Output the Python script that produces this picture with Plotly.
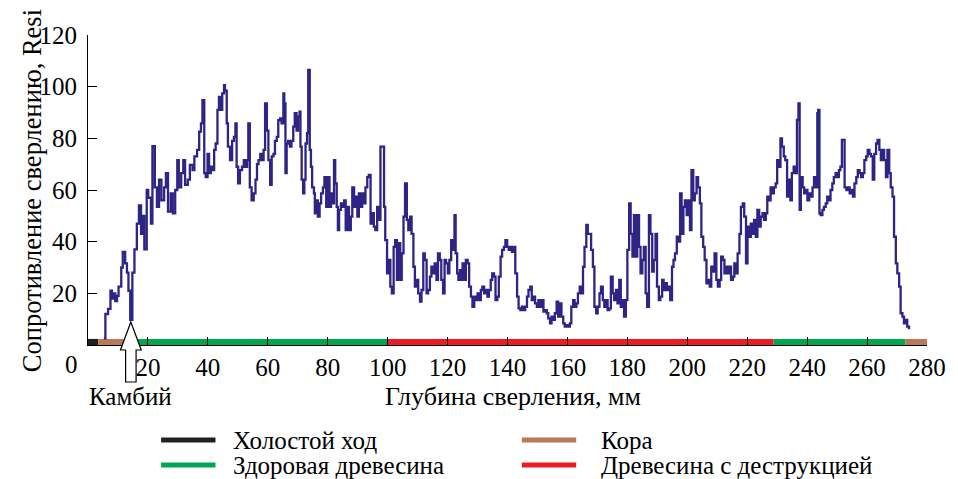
import plotly.graph_objects as go

# ---- data ----
depth_mm = [
    5.3, 5.8, 6.7, 7.5, 8.0, 8.6, 9.1, 9.7, 10.2, 11.1, 11.6, 12.4, 13.0, 13.5, 14.1, 14.8, 15.5, 16.3, 17.0, 17.7,
    18.1, 18.8, 19.6, 20.1, 21.0, 21.5, 22.3, 23.0, 23.7, 24.5, 25.4, 26.0, 26.7, 27.6, 28.3, 29.1, 29.8, 30.3, 31.1, 31.8,
    32.4, 33.3, 34.0, 34.9, 35.5, 36.4, 37.1, 37.7, 38.2, 38.8, 39.3, 39.9, 40.4, 41.0, 41.5, 42.1, 42.6, 43.2, 43.7, 44.3,
    44.8, 45.4, 45.7, 46.3, 46.7, 47.4, 48.1, 48.7, 49.2, 49.6, 50.1, 50.7, 51.4, 52.0, 52.6, 53.1, 53.5, 54.0, 54.6, 55.3,
    55.9, 56.4, 56.9, 57.5, 58.0, 58.6, 59.1, 59.7, 60.2, 60.8, 61.3, 61.9, 62.4, 63.0, 63.5, 64.1, 64.6, 65.2, 65.5, 65.9,
    66.3, 66.8, 67.4, 67.9, 68.5, 69.0, 69.6, 70.1, 70.6, 70.9, 71.3, 71.8, 72.2, 72.6, 73.1, 73.5, 74.0, 74.4, 74.8, 75.4,
    75.7, 76.2, 76.7, 77.3, 77.8, 78.4, 78.9, 79.5, 80.0, 80.6, 81.1, 81.7, 82.1, 82.5, 83.0, 83.4, 83.8, 84.4, 84.9, 85.5,
    86.0, 86.6, 87.1, 87.7, 88.2, 88.8, 89.3, 89.9, 90.4, 91.0, 91.5, 92.1, 92.6, 93.2, 93.7, 94.3, 94.8, 95.4, 95.9, 96.5,
    97.0, 97.6, 98.4, 98.8, 99.2, 99.8, 100.3, 100.9, 101.4, 102.0, 102.5, 103.1, 103.6, 104.2, 104.7, 105.3, 105.8, 106.4,
    106.9, 107.5, 108.0, 108.6, 109.1, 109.7, 110.2, 110.8, 111.3, 111.9, 112.4, 113.0, 113.5, 114.1, 114.6, 115.2, 115.7,
    116.3, 116.8, 117.4, 117.9, 118.5, 119.0, 119.5, 120.1, 120.6, 121.2, 121.7, 122.3, 122.7, 123.2, 123.6, 124.1, 124.5,
    125.0, 125.6, 126.1, 126.7, 127.2, 127.8, 128.3, 128.9, 129.4, 130.0, 130.5, 131.1, 131.6, 132.2, 132.7, 133.3, 133.8,
    134.4, 134.9, 135.5, 136.0, 136.6, 137.1, 137.7, 138.2, 138.8, 139.3, 139.9, 140.4, 141.0, 141.5, 142.1, 142.6, 143.2,
    143.7, 144.3, 144.8, 145.4, 145.9, 146.5, 147.0, 147.6, 148.1, 148.7, 149.2, 149.8, 150.3, 150.9, 151.4, 152.0, 152.5,
    153.1, 153.6, 154.2, 154.7, 155.3, 155.8, 156.4, 156.9, 157.5, 158.0, 158.6, 159.1, 159.7, 160.2, 160.8, 161.3, 161.9,
    162.4, 163.0, 163.5, 164.1, 164.6, 165.2, 165.7, 166.3, 166.8, 167.4, 167.9, 168.5, 169.0, 169.6, 170.1, 170.7, 171.2,
    171.8, 172.3, 172.9, 173.4, 174.0, 174.5, 175.1, 175.6, 176.2, 176.7, 177.3, 177.8, 178.4, 178.9, 179.5, 180.0, 180.6,
    181.1, 181.7, 182.2, 182.8, 183.3, 183.9, 184.4, 185.0, 185.5, 186.1, 186.6, 187.2, 187.7, 188.3, 188.8, 189.4, 189.9,
    190.5, 191.0, 191.6, 192.1, 192.7, 193.2, 193.8, 194.3, 194.9, 195.4, 195.9, 196.5, 197.0, 197.6, 198.1, 198.7, 199.2,
    199.8, 200.3, 200.9, 201.4, 202.0, 202.5, 203.1, 203.6, 204.2, 204.7, 205.3, 205.8, 206.4, 206.9, 207.5, 208.0, 208.6,
    209.1, 209.7, 210.2, 210.8, 211.3, 211.9, 212.4, 213.0, 213.5, 214.1, 214.6, 215.2, 215.7, 216.3, 216.8, 217.4, 217.9,
    218.5, 219.0, 219.6, 220.1, 220.7, 221.2, 221.8, 222.3, 222.9, 223.4, 224.0, 224.5, 225.1, 225.6, 226.2, 226.7, 227.3,
    227.8, 228.4, 228.9, 229.5, 230.0, 230.6, 231.1, 231.6, 232.2, 232.7, 233.3, 233.8, 234.4, 234.9, 235.5, 236.0, 236.6,
    237.1, 237.5, 237.9, 238.5, 239.0, 239.6, 240.1, 240.7, 241.2, 241.8, 242.3, 242.9, 243.4, 243.7, 244.1, 244.5, 245.1,
    245.6, 246.2, 246.7, 247.3, 247.8, 248.4, 248.9, 249.5, 250.0, 250.6, 251.1, 251.6, 252.2, 252.5, 253.1, 253.6, 254.2,
    254.7, 255.3, 255.8, 256.4, 256.9, 257.5, 258.0, 258.6, 259.1, 259.7, 260.2, 260.8, 261.3, 261.9, 262.4, 263.0, 263.5,
    264.1, 264.6, 265.2, 265.7, 266.3, 266.8, 267.4, 267.9, 268.5, 269.0, 269.6, 270.1, 270.7, 271.2, 271.8, 272.3, 272.9,
    273.4, 274.0,
]
resistance = [
    2.6, 12, 14, 21, 18, 20, 17, 19, 22.6, 30, 36, 31.6, 28, 21, 9.7, 28, 37, 47, 54, 43,
    50, 37, 60, 57, 47, 77, 61, 53.5, 64, 56, 61, 66.5, 51.6, 58.7, 51, 60, 71.6, 61, 66.5, 71.6,
    62, 64, 69.7, 67.7, 73, 75.5, 82.6, 85.8, 94.8, 66.5, 65, 74, 66.5, 69, 67.7, 75.5, 78, 91, 96, 91,
    97.4, 100.6, 98.5, 85.8, 76.8, 71.6, 79, 80.6, 85.8, 69, 62.6, 67.7, 69, 71.6, 69, 71.6, 85.8, 61, 56, 58.7,
    64, 70, 71.6, 74, 71.6, 75.5, 93.5, 83, 71.6, 62, 73, 74, 79, 80.6, 87, 87.7, 85.8, 97.4, 93.5, 66.5,
    78, 79, 76.8, 79, 84.5, 89.7, 83, 88.4, 90.3, 76.8, 64, 58.7, 64, 78, 82, 106.5, 75.5, 69, 61, 58.7,
    51, 56, 49.7, 54.8, 58.7, 61, 65, 53.5, 65, 53.5, 58.7, 54.8, 71.6, 62.6, 53.5, 44.5, 52.3, 54.8, 53.5, 56,
    44.5, 53.5, 44.5, 49.7, 61, 53.5, 57.4, 49.7, 58.7, 53.5, 58.7, 54.8, 61, 65, 65.8, 47, 51, 45.8, 44.5, 53.5,
    48.4, 76.8, 76.8, 53.5, 40.6, 27.7, 32.9, 22.6, 20, 38, 40.6, 25.2, 39.4, 25.2, 35.5, 49.7, 62.6, 48.4,
    44.5, 49.7, 43, 30.3, 22.6, 25.2, 20, 16.8, 21.3, 35.5, 32.9, 20, 21.3, 26.5, 30.3, 27.7, 31.6,
    25.2, 35.5, 32.9, 25.2, 20, 32.9, 31.6, 27.7, 32.9, 40.6, 36.8, 50.3, 35.5, 27.7, 25.2, 29, 25.2,
    31.6, 25.2, 32.9, 31.6, 22.6, 18.7, 14.8, 18.7, 17.4, 20, 17.4, 21.3, 22.6, 20, 21.3, 18.7, 21.3,
    25.2, 27.7, 26.5, 17.4, 18.7, 26.5, 34.2, 36.8, 38, 40.6, 38, 36.8, 38, 36.1, 38, 27.7, 18.7,
    14.2, 13.5, 14.8, 13.5, 14.8, 18.7, 21.3, 22.6, 17.4, 18.7, 16.1, 14.8, 17.4, 14.8, 17.4, 12.9, 13.5,
    12.3, 10.3, 8.4, 11, 9.7, 12.3, 16.8, 11, 16.1, 11, 8.4, 7.1, 7.7, 7.1, 8.4, 14.8, 17.4,
    14.8, 16.1, 20, 22.6, 20, 30.3, 38, 46.5, 43, 43, 36.8, 30.3, 14.8, 12.3, 14.8, 20, 22.6,
    17.4, 14.8, 17.4, 13.5, 14.2, 26.5, 20, 17.4, 21.3, 16.1, 25.2, 14.8, 17.4, 11, 17.4, 36.8, 54.8,
    43, 34.2, 50.3, 34.2, 50.3, 38, 27.7, 32.9, 38, 20, 14.8, 50.3, 43, 28.4, 32.9, 43, 22.6,
    17.4, 18.7, 25.2, 21.3, 23.9, 21.3, 22.6, 17.4, 30.3, 32.9, 35.5, 41.9, 40, 58.7, 43, 53.5, 56,
    50.3, 56, 44.5, 67.7, 56, 58.7, 65, 61, 54.8, 41.9, 38, 32.9, 23.9, 25.2, 22.6, 30.3, 28.4,
    35.5, 25.2, 22.6, 25.2, 34.2, 32.9, 27.7, 30.3, 27.7, 30.3, 25.2, 26.5, 31.6, 27.7, 35.5, 43, 53.5,
    54.8, 49.7, 31.6, 45.8, 41.9, 47, 43, 48.4, 41.9, 52.3, 45.8, 49.7, 51, 48.4, 51, 57.4, 56,
    61, 58.7, 61, 62.6, 71.6, 69, 80, 76.8, 73, 71.6, 57.4, 64, 56, 66.5, 69, 66.5, 87.1,
    93.5, 52.3, 65, 61, 58.7, 60, 56, 58.7, 57.4, 61, 65, 61, 89.7, 91, 51, 50.3, 52.3,
    53.5, 54.8, 57.4, 56, 60, 62.6, 65, 66.5, 65, 67.7, 69, 79.4, 79.4, 61, 60, 61, 58.7,
    60, 57.4, 62.6, 65, 67.7, 66.5, 65, 66.5, 71.6, 73, 75.5, 74, 73, 64, 74, 78, 79.4,
    75.5, 71.6, 75.5, 71.6, 65, 75.5, 66.5, 61, 57.4, 41.9, 31.6, 27.7, 22.6, 12.3, 11, 8.4, 9.7,
    7.1, 6.1,
]

# zones along the drill path (start mm, end mm)
zone_names = ["Холостой ход", "Кора", "Здоровая древесина", "Древесина с деструкцией",
              "Здоровая древесина", "Кора"]
zone_start = [0, 3.4, 13.0, 100.0, 228.8, 272.8]
zone_end = [3.4, 13.0, 100.0, 228.8, 272.8, 280.0]
zone_colors = ["#231f20", "#b97a57", "#00a651", "#ed1c24", "#00a651", "#b97a57"]
zone_level = 1.0

legend_names = ["Холостой ход", "Кора", "Здоровая древесина", "Древесина с деструкцией"]
legend_colors = ["#231f20", "#b97a57", "#00a651", "#ed1c24"]

x_ticks = [20, 40, 60, 80, 100, 120, 140, 160, 180, 200, 220, 240, 260, 280]
y_ticks = [20, 40, 60, 80, 100, 120]
x_range = [0, 280]
y_range = [0, 120]
cambium_mm = 14.3

FONT = "Liberation Serif, Times New Roman, serif"
FS = 25

fig = go.Figure()

# zone band along the x axis
for s, e, c in zip(zone_start, zone_end, zone_colors):
    fig.add_trace(go.Scatter(x=[s, e], y=[zone_level, zone_level], mode="lines",
                             line=dict(color=c, width=7), showlegend=False, hoverinfo="skip"))

# resistance profile
fig.add_trace(go.Scatter(x=depth_mm, y=resistance, mode="lines",
                         line=dict(color="#2d2485", width=2.3, shape="hv"),
                         showlegend=False))

# geometry of plot area (pixels)
W, H = 958, 479
ML, MR, MT, MB = 88, 21, 35, 134
PW, PH = W - ML - MR, H - MT - MB

def px_x(px):
    return (px - ML) / PW

def px_y(py):
    return (H - MB - py) / PH

# cambium arrow (hollow, outlined)
ax = (cambium_mm - x_range[0]) / (x_range[1] - x_range[0])
hw = 10.5 / PW
sw = 5.3 / PW
tip, base, bottom = px_y(322), px_y(350), px_y(382)
path = (f"M {ax},{tip} L {ax+hw},{base} L {ax+sw},{base} L {ax+sw},{bottom} "
        f"L {ax-sw},{bottom} L {ax-sw},{base} L {ax-hw},{base} Z")
shapes = [dict(type="path", path=path, xref="paper", yref="paper",
               fillcolor="white", line=dict(color="black", width=1.2), layer="above")]

tf = dict(family=FONT, size=FS, color="black")
annotations = [
    dict(text="0", x=px_x(71), y=px_y(364), xref="paper", yref="paper",
         showarrow=False, xanchor="center", yanchor="middle", font=tf),
    dict(text="Камбий", x=ax, y=px_y(396), xref="paper", yref="paper",
         showarrow=False, xanchor="center", yanchor="middle", font=tf),
    dict(text="Глубина сверления, мм", x=px_x(518), y=px_y(396), xref="paper", yref="paper",
         showarrow=False, xanchor="center", yanchor="middle",
         font=dict(family=FONT, size=26, color="black")),
    dict(text="Сопротивление сверлению, Resi", x=px_x(31), y=px_y(374), xref="paper", yref="paper",
         textangle=-90, showarrow=False, xanchor="center", yanchor="bottom",
         font=dict(family=FONT, size=26.5, color="black")),
]

# legend drawn as line samples + labels, two columns
leg_x_line = [(162, 217), (527, 582), (162, 217), (527, 582)]
leg_x_text = [233, 605, 233, 605]
leg_y = [440, 440, 465, 465]
for name, col, (x0, x1), xt, yy in zip(legend_names, legend_colors, leg_x_line, leg_x_text, leg_y):
    shapes.append(dict(type="line", xref="paper", yref="paper", x0=px_x(x0), x1=px_x(x1),
                       y0=px_y(yy), y1=px_y(yy), line=dict(color=col, width=5)))
    annotations.append(dict(text=name, x=px_x(xt), y=px_y(yy), xref="paper", yref="paper",
                            showarrow=False, xanchor="left", yanchor="middle", font=tf))

fig.update_layout(
    width=W, height=H,
    margin=dict(l=ML, r=MR, t=MT, b=MB),
    paper_bgcolor="white", plot_bgcolor="white",
    font=dict(family=FONT, size=FS, color="black"),
    shapes=shapes, annotations=annotations,
    showlegend=False,
)
fig.update_xaxes(range=x_range, tickvals=x_ticks, ticks="inside", ticklen=8, tickwidth=1.2,
                 tickcolor="black", showline=True, linecolor="black", linewidth=1.2,
                 showgrid=False, zeroline=False, tickfont=tf)
fig.update_yaxes(range=y_range, tickvals=y_ticks, ticks="inside", ticklen=9, tickwidth=1.2,
                 tickcolor="black", showline=True, linecolor="black", linewidth=1.2,
                 showgrid=False, zeroline=False, tickfont=tf, ticklabelstandoff=5)

fig.write_html("out.html")
